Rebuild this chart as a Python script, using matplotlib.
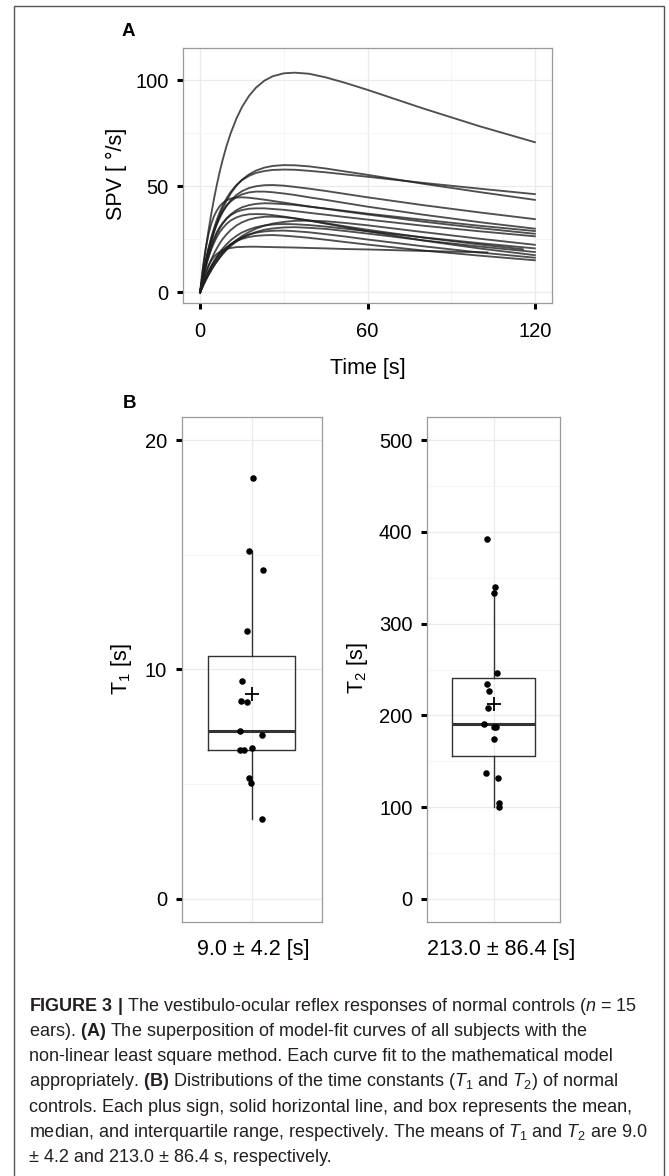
import matplotlib
matplotlib.use('Agg')
import matplotlib.pyplot as plt
from matplotlib.patches import Rectangle

plt.rcParams['font.family'] = ['Liberation Sans', 'DejaVu Sans']
plt.rcParams['mathtext.fontset'] = 'custom'
plt.rcParams['mathtext.rm'] = 'Liberation Sans'
plt.rcParams['mathtext.it'] = 'Liberation Sans:italic'
plt.rcParams['mathtext.bf'] = 'Liberation Sans:bold'

# --- panel A: fitted SPV curves (deg/s), sampled at shared times (s)
time_s = [0, 1, 2, 3, 4, 5, 6, 7, 8, 9.5, 11, 13, 15, 17.5, 20, 23, 26, 30, 34, 39, 45, 52, 60, 80, 100, 120]
# last sample of each curve is taken at its own end time
t_end = [120, 120, 120, 120, 120, 120, 120, 120, 115.7, 120, 120, 120, 120, 120, 120, 103]
spv = [
    [0, 10.7, 20.3, 29.1, 37.1, 44.3, 50.8, 56.8, 62.1, 69.2, 75.2, 81.9, 87.4, 92.6, 96.5, 99.8, 101.9, 103.3, 103.6, 103.1, 101.4, 98.8, 95.5, 86.7, 78.4, 70.8],
    [0, 7.1, 13.5, 19.1, 24.2, 28.7, 32.6, 36.2, 39.3, 43.3, 46.7, 50.3, 53.1, 55.6, 57.4, 58.8, 59.6, 60.0, 59.9, 59.4, 58.4, 57.0, 55.4, 51.2, 47.3, 43.6],
    [0, 7.8, 14.7, 20.6, 25.8, 30.3, 34.3, 37.7, 40.7, 44.4, 47.4, 50.6, 52.9, 54.9, 56.3, 57.2, 57.7, 57.9, 57.8, 57.3, 56.6, 55.6, 54.5, 51.6, 48.9, 46.3],
    [0, 7.5, 14.0, 19.5, 24.3, 28.5, 32.0, 35.0, 37.6, 40.9, 43.4, 45.9, 47.7, 49.2, 50.0, 50.5, 50.6, 50.3, 49.7, 48.9, 47.8, 46.4, 44.8, 41.1, 37.7, 34.5],
    [0, 8.1, 14.9, 20.7, 25.5, 29.5, 32.9, 35.7, 38.1, 40.9, 42.9, 44.9, 46.2, 47.1, 47.5, 47.5, 47.2, 46.6, 45.9, 44.8, 43.6, 42.1, 40.4, 36.6, 33.1, 30.0],
    [0, 11.9, 20.8, 27.4, 32.3, 36.0, 38.6, 40.6, 42.0, 43.4, 44.2, 44.7, 44.8, 44.6, 44.2, 43.7, 43.1, 42.3, 41.5, 40.5, 39.4, 38.1, 36.7, 33.3, 30.3, 27.6],
    [0, 6.6, 12.2, 17.0, 21.1, 24.6, 27.6, 30.1, 32.2, 34.8, 36.8, 38.7, 40.1, 41.1, 41.7, 42.0, 41.9, 41.6, 41.2, 40.4, 39.5, 38.4, 37.1, 34.2, 31.4, 28.9],
    [0, 7.2, 13.2, 18.1, 22.2, 25.6, 28.4, 30.7, 32.6, 34.8, 36.4, 37.9, 38.8, 39.4, 39.6, 39.6, 39.3, 38.9, 38.3, 37.5, 36.6, 35.5, 34.3, 31.4, 28.8, 26.4],
    [0, 6.5, 11.9, 16.4, 20.3, 23.4, 26.1, 28.3, 30.1, 32.3, 33.9, 35.3, 36.2, 36.8, 36.9, 36.8, 36.4, 35.7, 34.9, 33.9, 32.6, 31.1, 29.5, 25.8, 22.6, 20.3],
    [0, 2.9, 5.6, 8.1, 10.4, 12.6, 14.5, 16.3, 18.0, 20.3, 22.3, 24.6, 26.5, 28.4, 30.0, 31.4, 32.4, 33.2, 33.7, 33.8, 33.5, 32.7, 31.6, 28.4, 25.3, 22.4],
    [0, 4.6, 8.7, 12.3, 15.5, 18.3, 20.8, 23.0, 25.0, 27.4, 29.4, 31.5, 33.0, 34.3, 35.1, 35.6, 35.7, 35.4, 34.8, 33.8, 32.4, 30.7, 28.8, 24.4, 20.7, 17.5],
    [0, 3.6, 6.9, 9.8, 12.4, 14.8, 16.9, 18.8, 20.5, 22.7, 24.6, 26.6, 28.2, 29.6, 30.7, 31.5, 32.0, 32.2, 32.1, 31.7, 31.0, 30.0, 28.8, 25.9, 23.2, 20.7],
    [0, 3.0, 5.8, 8.3, 10.6, 12.7, 14.6, 16.4, 18.0, 20.1, 21.9, 23.9, 25.6, 27.2, 28.4, 29.5, 30.1, 30.6, 30.7, 30.4, 29.9, 28.9, 27.7, 24.5, 21.6, 19.0],
    [0, 3.4, 6.4, 9.1, 11.6, 13.8, 15.7, 17.5, 19.0, 21.0, 22.7, 24.5, 25.9, 27.2, 28.1, 28.7, 29.0, 29.1, 28.8, 28.3, 27.4, 26.3, 24.9, 21.7, 18.8, 16.3],
    [0, 3.7, 7.0, 9.8, 12.3, 14.5, 16.4, 18.1, 19.5, 21.3, 22.7, 24.2, 25.2, 26.1, 26.6, 26.9, 27.0, 26.7, 26.3, 25.7, 24.8, 23.7, 22.5, 19.7, 17.3, 15.1],
    [0, 5.5, 9.6, 12.7, 15.0, 16.8, 18.1, 19.0, 19.7, 20.5, 20.9, 21.3, 21.4, 21.5, 21.5, 21.4, 21.3, 21.2, 21.1, 20.9, 20.7, 20.4, 20.2, 19.5, 18.9, 18.8],
]

# --- panel B: time constants, with horizontal jitter
t1_vals = [18.36, 15.15, 14.36, 11.66, 9.48, 8.63, 8.59, 7.31, 7.14, 6.50, 6.47, 6.56, 5.28, 5.07, 3.50]
t1_jit = [0.011, -0.023, 0.097, -0.04, -0.086, -0.092, -0.043, -0.1, 0.086, -0.1, -0.063, 0.005, -0.023, -0.006, 0.091]
t2_vals = [391.9, 339.6, 333.1, 246.0, 234.6, 226.7, 208.2, 190.7, 187.8, 187.1, 174.1, 136.6, 131.2, 104.4, 100.0]
t2_jit = [-0.061, 0.012, 0.003, 0.033, -0.063, -0.04, -0.054, -0.088, 0.005, 0.027, 0.0, -0.07, 0.045, 0.048, 0.054]
t1_label = '9.0 ± 4.2 [s]'
t2_label = '213.0 ± 86.4 [s]'

W, H = 669, 1176
fig = plt.figure(figsize=(W / 100, H / 100), dpi=100)


def px_box(l, t, r, b):
    return [l / W, 1 - b / H, (r - l) / W, (b - t) / H]


def px_text(x, y, s, **kw):
    fig.text(x / W, 1 - y / H, s, **kw)


def style_axes(ax):
    ax.set_axisbelow(True)
    ax.grid(True, which='major', color='#ebebeb', lw=0.9)
    ax.grid(True, which='minor', color='#f5f5f5', lw=0.7)
    for sp in ax.spines.values():
        sp.set_color('#9a9a9a')
        sp.set_linewidth(0.9)
    ax.tick_params(which='major', direction='out', length=4.5, width=2.2,
                   color='black', labelsize=14.5, labelcolor='black')
    ax.tick_params(which='minor', length=0)
    ax.tick_params(axis='y', pad=6)
    ax.tick_params(axis='x', pad=9)


# panel A
axA = fig.add_axes(px_box(183.4, 48.3, 551.6, 303.3))
for vals, te in zip(spv, t_end):
    assert len(vals) == len(time_s)
    tt = time_s[:-1] + [te]
    axA.plot(tt, vals, color='#1e1e1e', alpha=0.78, lw=1.35)
axA.set_xlim(-6, 126)
axA.set_ylim(-5.2, 115.1)
axA.set_xticks([0, 60, 120])
axA.set_xticks([30, 90], minor=True)
axA.set_yticks([0, 50, 100])
axA.set_yticks([25, 75], minor=True)
style_axes(axA)

px_text(128, 32, 'A', fontsize=13.5, fontweight='bold', ha='center', va='center')
px_text(116, 174, 'SPV [ °/s]', fontsize=15.5, rotation=90, ha='center', va='center')
px_text(368, 369, 'Time [s]', fontsize=15.5, ha='center', va='center')


# panel B
def draw_box(ax, vals, jit, ylim, major, minor):
    ax.boxplot([vals], positions=[1], widths=0.75, showfliers=False, showcaps=False,
               showmeans=True, patch_artist=False,
               boxprops=dict(color='#333333', lw=1.0),
               whiskerprops=dict(color='#333333', lw=1.0),
               medianprops=dict(color='#333333', lw=2.2),
               meanprops=dict(marker='+', markeredgecolor='black', markersize=10, markeredgewidth=1.3))
    ax.scatter([1 + j for j in jit], vals, s=22, color='black', zorder=3, linewidths=0)
    ax.set_xlim(0.4, 1.6)
    ax.set_ylim(*ylim)
    ax.set_xticks([1])
    ax.set_xticklabels([])
    ax.set_yticks(major)
    ax.set_yticks(minor, minor=True)
    style_axes(ax)
    ax.tick_params(axis='x', length=0)


axB1 = fig.add_axes(px_box(181.7, 417.3, 321.5, 921.7))
draw_box(axB1, t1_vals, t1_jit, (-1, 21), [0, 10, 20], [5, 15])
axB2 = fig.add_axes(px_box(427, 417.3, 560, 921.7))
draw_box(axB2, t2_vals, t2_jit, (-25, 525), [0, 100, 200, 300, 400, 500], [50, 150, 250, 350, 450])

px_text(129, 404, 'B', fontsize=13.5, fontweight='bold', ha='center', va='center')
px_text(121, 669, r'T$\mathregular{_1}$ [s]', fontsize=15.5, rotation=90, ha='center', va='center')
px_text(357, 668, r'T$\mathregular{_2}$ [s]', fontsize=15.5, rotation=90, ha='center', va='center')
px_text(253, 950, t1_label, fontsize=15.5, ha='center', va='center')
px_text(501, 950, t2_label, fontsize=15.5, ha='center', va='center')

# caption
caption = [
    r'$\mathbf{FIGURE\ 3\ |}$ The vestibulo-ocular reflex responses of normal controls ($\mathit{n}$ = 15',
    r'ears). $\mathbf{(A)}$ The superposition of model-fit curves of all subjects with the',
    'non-linear least square method. Each curve fit to the mathematical model',
    r'appropriately. $\mathbf{(B)}$ Distributions of the time constants ($\mathit{T}_1$ and $\mathit{T}_2$) of normal',
    'controls. Each plus sign, solid horizontal line, and box represents the mean,',
    r'median, and interquartile range, respectively. The means of $\mathit{T}_1$ and $\mathit{T}_2$ are 9.0',
    '± 4.2 and 213.0 ± 86.4 s, respectively.',
]
for i, line in enumerate(caption):
    px_text(28.6, 1010.7 + i * 25.2, line, fontsize=13, color='#231f20', ha='left', va='baseline')

fig.add_artist(Rectangle((14 / W, -0.01), (664 - 14) / W, 1 - 6 / H + 0.01,
                         transform=fig.transFigure, fill=False, ec='#555555', lw=1.0))

fig.savefig('out.png', dpi=100)
